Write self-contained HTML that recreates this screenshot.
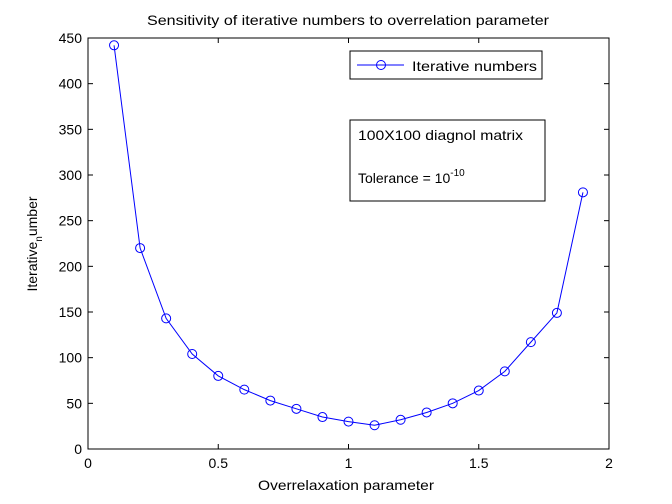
<!DOCTYPE html>
<html><head><meta charset="utf-8"><style>
body{margin:0;background:#fff;}
svg{display:block;font-family:"Liberation Sans",sans-serif;}
</style></head><body>
<svg id="chart" width="672" height="504">
<rect x="0" y="0" width="672" height="504" fill="#fff"/>
<rect x="88" y="38" width="521" height="411" fill="#fff" stroke="#000" stroke-width="1"/>
<text x="147" y="25" font-size="14" textLength="402" lengthAdjust="spacingAndGlyphs">Sensitivity of iterative numbers to overrelation parameter</text>
<text x="258" y="490" font-size="14" textLength="176" lengthAdjust="spacingAndGlyphs">Overrelaxation parameter</text>
<text transform="translate(37,244) rotate(-90)" font-size="14" text-anchor="middle">Iterative<tspan font-size="10" dy="5">n</tspan><tspan dy="-5">umber</tspan></text>
<g id="ticks"></g>
<g id="series"></g>
<g>
<rect x="350" y="51" width="192" height="28" fill="#fff" stroke="#000"/>
<line x1="357" y1="65" x2="404" y2="65" stroke="#0000ff"/>
<circle cx="381" cy="65" r="4.5" fill="none" stroke="#0000ff"/>
<text x="412" y="71" font-size="14" textLength="125" lengthAdjust="spacingAndGlyphs">Iterative numbers</text>
</g>
<g>
<rect x="350" y="120" width="195" height="81" fill="#fff" stroke="#000"/>
<text x="358" y="140" font-size="14" textLength="165" lengthAdjust="spacingAndGlyphs">100X100 diagnol matrix</text>
<text x="358" y="183" font-size="14">Tolerance = 10<tspan font-size="10" dy="-7">-10</tspan></text>
</g>
</svg>
<script>
const xValues=[0.1,0.2,0.3,0.4,0.5,0.6,0.7,0.8,0.9,1.0,1.1,1.2,1.3,1.4,1.5,1.6,1.7,1.8,1.9];
const yValues=[442,220,143,104,80,65,53,44,35,30,26,32,40,50,64,85,117,149,281];
const xTicks=[0,0.5,1,1.5,2];
const xTickLabels=["0","0.5","1","1.5","2"];
const yTicks=[0,50,100,150,200,250,300,350,400,450];
const NS="http://www.w3.org/2000/svg";
const X0=88,X1=609,Y0=449,Y1=38;
function sx(v){return X0+(v-0)/(2-0)*(X1-X0);}
function sy(v){return Y0-(v-0)/(450-0)*(Y0-Y1);}
function mk(t,a,p){const e=document.createElementNS(NS,t);for(const k in a)e.setAttribute(k,a[k]);p.appendChild(e);return e;}
const tg=document.getElementById('ticks');
xTicks.forEach((v,i)=>{
  const x=sx(v);
  const l1=mk('line',{x1:x,y1:Y0,x2:x,y2:Y0-5,stroke:'#000'},tg);
  
  
  const l2=mk('line',{x1:x,y1:Y1,x2:x,y2:Y1+5,stroke:'#000'},tg);
  
  
  const t=mk('text',{x:x,y:Y0+19,'font-size':14,'text-anchor':'middle'},tg);
  t.textContent=xTickLabels[i];
  
  
});
yTicks.forEach(v=>{
  const y=sy(v);
  const l1=mk('line',{x1:X0,y1:y,x2:X0+5,y2:y,stroke:'#000'},tg);
  
  
  const l2=mk('line',{x1:X1,y1:y,x2:X1-5,y2:y,stroke:'#000'},tg);
  
  
  const t=mk('text',{x:X0-6,y:y+5,'font-size':14,'text-anchor':'end'},tg);
  t.textContent=String(v);
  
  
});
const sg=document.getElementById('series');
const pts=xValues.map((v,i)=>sx(v)+','+sy(yValues[i])).join(' ');
const pl=mk('polyline',{points:pts,fill:'none',stroke:'#0000ff','stroke-width':1},sg);


xValues.forEach((v,i)=>{
  const c=mk('circle',{cx:sx(v),cy:sy(yValues[i]),r:4.5,fill:'none',stroke:'#0000ff'},sg);
  
  
});
</script>
</body></html>
